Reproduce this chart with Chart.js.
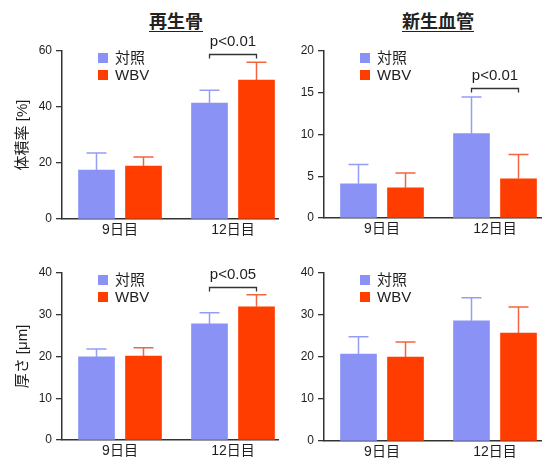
<!DOCTYPE html>
<html>
<head>
<meta charset="utf-8">
<script src="https://cdn.jsdelivr.net/npm/chart.js@4.4.1/dist/chart.umd.min.js"></script>
<style>
  body { margin: 0; background: #fff; }
  #wrap { position: relative; width: 542px; height: 462px; overflow: hidden; }
  canvas { position: absolute; }
  .ttl {
    position: absolute; width: 140px; text-align: center;
    font: bold 18px "Noto Sans CJK JP", sans-serif; color: #222; line-height: 24px;
    text-decoration: underline; text-underline-offset: 3px;
  }
</style>
</head>
<body>
<div id="wrap">
  <div class="ttl" style="left:106px;top:8px">再生骨</div>
  <div class="ttl" style="left:368px;top:8px">新生血管</div>
  <canvas id="boneVol" width="280" height="240" style="left:0;top:0"></canvas>
  <canvas id="vesselVol" width="271" height="240" style="left:271px;top:0"></canvas>
  <canvas id="boneThick" width="280" height="222" style="left:0;top:240px"></canvas>
  <canvas id="vesselThick" width="271" height="222" style="left:271px;top:240px"></canvas>
</div>
<script>
const days = ['9日目', '12日目'];
const seriesNames = ['対照', 'WBV'];

// 再生骨 - 体積率 [%]
const boneVolCtrl = [17.5, 41.4];
const boneVolCtrlSd = [6.1, 4.6];
const boneVolWbv = [18.9, 49.6];
const boneVolWbvSd = [3.2, 6.4];
const boneVolTicks = [0, 20, 40, 60];

// 新生血管 - 体積率 [%]
const vesselVolCtrl = [4.1, 10.1];
const vesselVolCtrlSd = [2.3, 4.4];
const vesselVolWbv = [3.6, 4.7];
const vesselVolWbvSd = [1.8, 2.9];
const vesselVolTicks = [0, 5, 10, 15, 20];

// 再生骨 - 厚さ [μm]
const boneThickCtrl = [19.9, 27.8];
const boneThickCtrlSd = [1.9, 2.7];
const boneThickWbv = [20.1, 31.9];
const boneThickWbvSd = [2.0, 2.9];
const boneThickTicks = [0, 10, 20, 30, 40];

// 新生血管 - 厚さ [μm]
const vesselThickCtrl = [20.7, 28.6];
const vesselThickCtrlSd = [4.1, 5.5];
const vesselThickWbv = [20.0, 25.7];
const vesselThickWbvSd = [3.6, 6.2];
const vesselThickTicks = [0, 10, 20, 30, 40];

// significance brackets: label, day index, bracket level
const boneVolSig = ['p<0.01', 1, 58.9];
const vesselVolSig = ['p<0.01', 1, 15.6];
const boneThickSig = ['p<0.05', 1, 36.7];

const FONT = '"Liberation Sans", "Noto Sans CJK JP", sans-serif';
const INK = '#1e1e1e';
const AXIS = '#333';
const BAR_COLORS = ['#8a93f5', '#ff3d00'];
const ERR_COLORS = ['#959df4', '#f3653f'];
const X_MIN = -58 / 113;

Chart.defaults.font.family = FONT;
Chart.defaults.color = INK;

// upper-only SD whiskers
const errorBars = {
  id: 'errorBars',
  afterDatasetsDraw(chart) {
    const ctx = chart.ctx;
    const y = chart.scales.y;
    chart.data.datasets.forEach((ds, di) => {
      chart.getDatasetMeta(di).data.forEach((bar, i) => {
        const top = y.getPixelForValue(ds.data[i].y + ds.sd[i]);
        ctx.save();
        ctx.strokeStyle = ds.errColor;
        ctx.lineWidth = 1.5;
        ctx.beginPath();
        ctx.moveTo(bar.x, bar.y);
        ctx.lineTo(bar.x, top);
        ctx.moveTo(bar.x - 10, top);
        ctx.lineTo(bar.x + 10, top);
        ctx.stroke();
        ctx.restore();
      });
    });
  }
};

const sigBracket = {
  id: 'sigBracket',
  afterDatasetsDraw(chart, args, opts) {
    if (!opts || !opts.label) return;
    const ctx = chart.ctx;
    const a = chart.getDatasetMeta(0).data[opts.index];
    const b = chart.getDatasetMeta(1).data[opts.index];
    const y = Math.round(chart.scales.y.getPixelForValue(opts.level)) + 0.5;
    ctx.save();
    ctx.strokeStyle = AXIS;
    ctx.lineWidth = 1.3;
    ctx.beginPath();
    ctx.moveTo(a.x, y + 4);
    ctx.lineTo(a.x, y);
    ctx.lineTo(b.x, y);
    ctx.lineTo(b.x, y + 4);
    ctx.stroke();
    ctx.fillStyle = INK;
    ctx.font = '15px ' + FONT;
    ctx.textAlign = 'center';
    ctx.textBaseline = 'middle';
    ctx.fillText(opts.label, (a.x + b.x) / 2, y - 13);
    ctx.restore();
  }
};

// small square legend in the upper-left of the plot
const boxLegend = {
  id: 'boxLegend',
  afterDraw(chart) {
    const { ctx, chartArea } = chart;
    ctx.save();
    ctx.font = '15px ' + FONT;
    ctx.textBaseline = 'middle';
    chart.data.datasets.forEach((ds, i) => {
      const x = chartArea.left + 36;
      const y = chartArea.top + 2 + i * 17;
      ctx.fillStyle = ds.backgroundColor;
      ctx.fillRect(x, y, 10, 10);
      ctx.fillStyle = INK;
      ctx.fillText(ds.label, x + 17, y + 6);
    });
    ctx.restore();
  }
};

function makeChart(id, o) {
  const sets = [[o.ctrl, o.ctrlSd], [o.wbv, o.wbvSd]];
  return new Chart(document.getElementById(id), {
    type: 'bar',
    data: {
      datasets: sets.map(([vals, sd], k) => ({
        label: seriesNames[k],
        data: vals.map((v, i) => ({ x: i, y: v })),
        sd: sd,
        backgroundColor: BAR_COLORS[k],
        errColor: ERR_COLORS[k],
        barThickness: 47,
        maxBarThickness: 36
      }))
    },
    options: {
      responsive: false,
      animation: false,
      layout: { padding: { top: o.top, right: o.right, left: 0, bottom: 0 } },
      plugins: {
        legend: { display: false },
        tooltip: { enabled: false },
        sigBracket: o.sig ? { label: o.sig[0], index: o.sig[1], level: o.sig[2] } : {}
      },
      scales: {
        x: {
          type: 'linear',
          bounds: 'data',
          offset: false,
          min: X_MIN,
          max: o.xMax,
          afterFit: s => { s.height = o.xh; },
          afterBuildTicks: s => { s.ticks = days.map((d, i) => ({ value: i })); },
          grid: { display: false, drawTicks: false, tickLength: 0, offset: false },
          border: { color: AXIS, width: 1.5 },
          ticks: {
            callback: v => days[v],
            padding: 3,
            maxRotation: 0,
            autoSkip: false,
            font: { size: 14 },
            color: INK
          }
        },
        y: {
          min: o.ticks[0],
          max: o.ticks[o.ticks.length - 1],
          afterFit: s => { s.width = o.yw; },
          grid: { drawOnChartArea: false, tickLength: 6, color: AXIS, lineWidth: 1.3 },
          border: { color: AXIS, width: 1.5 },
          ticks: { stepSize: o.ticks[1] - o.ticks[0], padding: 4, font: { size: 12 }, color: INK },
          title: o.title
            ? { display: true, text: o.title, font: { size: 15 }, color: INK, padding: { top: 14, bottom: 0 } }
            : { display: false }
        }
      }
    },
    plugins: [errorBars, sigBracket, boxLegend]
  });
}

makeChart('boneVol', {
  ctrl: boneVolCtrl, ctrlSd: boneVolCtrlSd, wbv: boneVolWbv, wbvSd: boneVolWbvSd,
  ticks: boneVolTicks, sig: boneVolSig, title: '体積率 [%]',
  top: 51, right: 2, xh: 21, yw: 62, xMax: X_MIN + 216 / 113
});
makeChart('vesselVol', {
  ctrl: vesselVolCtrl, ctrlSd: vesselVolCtrlSd, wbv: vesselVolWbv, wbvSd: vesselVolWbvSd,
  ticks: vesselVolTicks, sig: vesselVolSig,
  top: 51, right: 0, xh: 22, yw: 53, xMax: X_MIN + 218 / 113
});
makeChart('boneThick', {
  ctrl: boneThickCtrl, ctrlSd: boneThickCtrlSd, wbv: boneThickWbv, wbvSd: boneThickWbvSd,
  ticks: boneThickTicks, sig: boneThickSig, title: '厚さ [μm]',
  top: 33, right: 2, xh: 22, yw: 62, xMax: X_MIN + 216 / 113
});
makeChart('vesselThick', {
  ctrl: vesselThickCtrl, ctrlSd: vesselThickCtrlSd, wbv: vesselThickWbv, wbvSd: vesselThickWbvSd,
  ticks: vesselThickTicks,
  top: 33, right: 0, xh: 21, yw: 53, xMax: X_MIN + 218 / 113
});
</script>
</body>
</html>
